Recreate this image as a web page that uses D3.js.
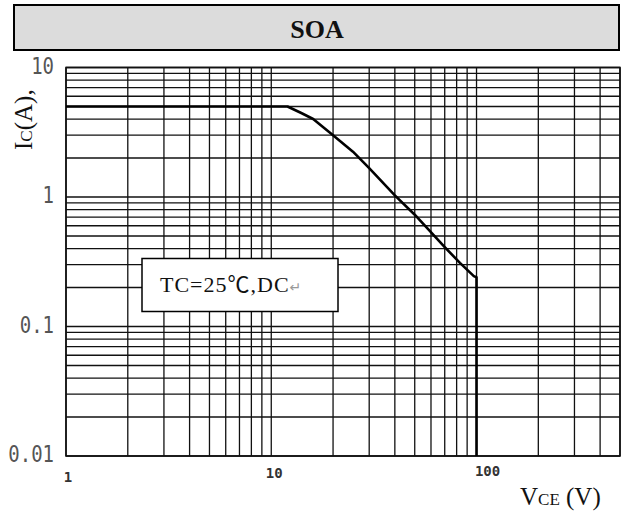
<!DOCTYPE html>
<html>
<head>
<meta charset="utf-8">
<script src="https://cdn.jsdelivr.net/npm/d3@7"></script>
<style>
  html, body { margin: 0; padding: 0; background: #fff; }
  svg { display: block; }
</style>
</head>
<body>
<svg id="chart" width="621" height="522"></svg>
<script>
// ---- data ----
const chartTitle = "SOA";
const xTickValues = [1, 10, 100];
const xTickLabels = ["1", "10", "100"];
const yTickValues = [0.01, 0.1, 1, 10];
const yTickLabels = ["0.01", "0.1", "1", "10"];
const soaVce = [1, 12, 14, 16, 20, 25, 30, 40, 50, 70, 83, 97, 100, 100];
const soaIc  = [5, 5, 4.45, 4.0, 3.0, 2.24, 1.67, 1.03, 0.73, 0.41, 0.31, 0.245, 0.24, 0.01];
const legendText = "TC=25\u2103,DC";

// ---- layout ----
const svg = d3.select("#chart");
const x = d3.scaleLog().domain([1, 500]).range([66, 620]);
const y = d3.scaleLog().domain([0.01, 10]).range([456, 67.5]);

// title box
svg.append("rect").attr("x", 14).attr("y", 5).attr("width", 605).attr("height", 45)
  .attr("fill", "#dcdcdc").attr("stroke", "#000").attr("stroke-width", 2);
svg.append("text").attr("x", 317).attr("y", 38).attr("text-anchor", "middle")
  .attr("font-family", "Liberation Serif, Times New Roman, serif").attr("font-weight", "bold")
  .attr("font-size", 26).attr("fill", "#111").text(chartTitle);

// grid values
const xGrid = [], yGrid = [];
[1, 10, 100].forEach(d => { for (let k = 1; k <= 9; k++) { const v = k * d; if (v <= 500) xGrid.push(v); } });
[0.01, 0.1, 1].forEach(d => { for (let k = 1; k <= 9; k++) yGrid.push(k * d); });
yGrid.push(10);

const grid = svg.append("g").attr("stroke", "#111").attr("stroke-width", 1.3).attr("fill", "none");
grid.selectAll("line.v").data(xGrid).join("line").attr("class", "v")
  .attr("x1", d => x(d)).attr("x2", d => x(d)).attr("y1", y(10)).attr("y2", y(0.01));
grid.selectAll("line.h").data(yGrid).join("line").attr("class", "h")
  .attr("x1", x(1)).attr("x2", x(500)).attr("y1", d => y(d)).attr("y2", d => y(d));
grid.append("rect").attr("x", x(1)).attr("y", y(10)).attr("width", x(500) - x(1)).attr("height", y(0.01) - y(10))
  .attr("stroke-width", 1.6);

// curve
const line = d3.line().x(d => x(d[0])).y(d => y(d[1]));
svg.append("path").datum(soaVce.map((v, i) => [v, soaIc[i]]))
  .attr("d", line).attr("fill", "none").attr("stroke", "#000").attr("stroke-width", 2.6)
  .attr("stroke-linejoin", "round");

// legend box
svg.append("rect").attr("x", 142).attr("y", 258.5).attr("width", 196).attr("height", 53)
  .attr("fill", "#fff").attr("stroke", "#000").attr("stroke-width", 1.5);
const lt = svg.append("text").attr("x", 160).attr("y", 292)
  .attr("font-family", "Liberation Serif, 'Noto Sans CJK SC', serif").attr("font-size", 22)
  .attr("letter-spacing", 1).attr("fill", "#111");
lt.append("tspan").text(legendText);
lt.append("tspan").attr("fill", "#999").attr("font-size", 14).attr("font-family", "DejaVu Sans").text("\u21B5");

// y tick labels
svg.append("g").selectAll("text").data(yTickValues).join("text")
  .attr("transform", d => `translate(54,${y(d) + 6}) scale(1,1.2)`)
  .attr("text-anchor", "end").attr("font-family", "DejaVu Sans Mono, monospace")
  .attr("font-size", 19).attr("fill", "#555")
  .text((d, i) => yTickLabels[i]);

// x tick labels
const xdx = [2, 3, 11], xdy = [482, 478, 476];
svg.append("g").selectAll("text").data(xTickValues).join("text")
  .attr("x", (d, i) => x(d) + xdx[i]).attr("y", (d, i) => xdy[i])
  .attr("text-anchor", "middle").attr("font-family", "DejaVu Sans Mono, monospace")
  .attr("font-weight", "bold").attr("font-size", 14).attr("fill", "#333")
  .text((d, i) => xTickLabels[i]);

// axis titles
const yl = svg.append("text").attr("transform", "translate(32,150) rotate(-90)")
  .attr("font-family", "Liberation Serif, Times New Roman, serif").attr("font-size", 25).attr("fill", "#111");
yl.append("tspan").text("I");
yl.append("tspan").attr("font-size", 17).text("C");
yl.append("tspan").text("(A),");

const xl = svg.append("text").attr("x", 520).attr("y", 505)
  .attr("font-family", "Liberation Serif, Times New Roman, serif").attr("font-size", 25).attr("fill", "#111");
xl.append("tspan").text("V");
xl.append("tspan").attr("font-size", 17).text("CE");
xl.append("tspan").text(" (V)");
</script>
</body>
</html>
